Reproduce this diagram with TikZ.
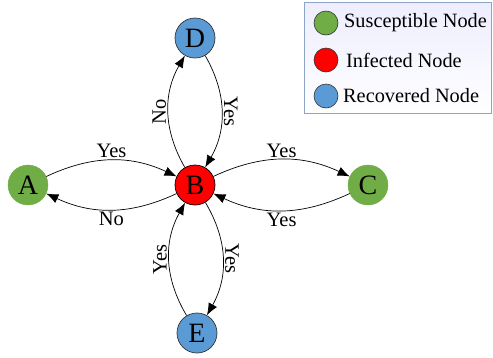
\documentclass[tikz,border=0pt]{standalone}
\usepackage{fontspec}
\setmainfont{Liberation Serif}
\usetikzlibrary{arrows.meta}
\definecolor{susgreen}{HTML}{70AD47}
\definecolor{infred}{HTML}{FF0000}
\definecolor{recblue}{HTML}{5B9BD5}
\definecolor{boxedge}{HTML}{8CA5C4}
\tikzset{
    state/.style={circle, minimum size=40pt, inner sep=0pt, font=\fontsize{28}{28}\selectfont},
    key/.style={circle, minimum size=24pt, inner sep=0pt, draw=black!80, line width=0.6pt},
    lab/.style={font=\fontsize{20.5}{20.5}\selectfont, inner sep=2pt},
    keytext/.style={anchor=west, font=\fontsize{20.3}{20.3}\selectfont, inner sep=0pt},
    flow/.style={-{Latex[length=12pt,width=9.5pt]}, line width=0.7pt}
}

\begin{document}
\begin{tikzpicture}[x=1pt, y=-1pt]
        \useasboundingbox (0,0) rectangle (493,357);

        % legend
        \node[draw=boxedge, line width=0.8pt, top color=blue!7!white, bottom color=white,
              minimum width=187pt, minimum height=111pt, anchor=north west] (legend) at (304,2) {};
        \node[key, fill=susgreen] (lgS) at (326,23) {};
        \node[key, fill=infred] (lgI) at (326,60) {};
        \node[key, fill=recblue] (lgR) at (326,96) {};
        \node[keytext] (tS) at (344,23) {Susceptible Node};
        \node[keytext] (tI) at (346,60) {Infected Node};
        \node[keytext] (tR) at (343,96) {Recovered Node};

        % nodes
        \node[state, fill=susgreen, draw=susgreen] (A) at (28,185) {A};
        \node[state, fill=infred, draw=black, line width=0.7pt] (B) at (195,185) {B};
        \node[state, fill=susgreen, draw=susgreen] (C) at (368,185) {C};
        \node[state, fill=recblue, draw=black!80, line width=0.7pt] (D) at (195,38) {D};
        \node[state, fill=recblue, draw=black!80, line width=0.7pt] (E) at (197,333) {E};

        % transitions
        \draw[flow] (A) edge[bend left=25] node[lab, above]{Yes} (B);
        \draw[flow] (B) edge[bend left=25] node[lab, below]{No} (A);
        \draw[flow] (B) edge[bend left=25] node[lab, above]{Yes} (C);
        \draw[flow] (C) edge[bend left=25] node[lab, below]{Yes} (B);
        \draw[flow] (B) edge[bend left=30] node[lab, rotate=90, anchor=south]{No} (D);
        \draw[flow] (D) edge[bend left=30] node[lab, rotate=-90, anchor=south]{Yes} (B);
        \draw[flow] (E) edge[bend left=30] node[lab, rotate=90, anchor=south]{Yes} (B);
        \draw[flow] (B) edge[bend left=30] node[lab, rotate=-90, anchor=south]{Yes} (E);
    \end{tikzpicture}
\end{document}
